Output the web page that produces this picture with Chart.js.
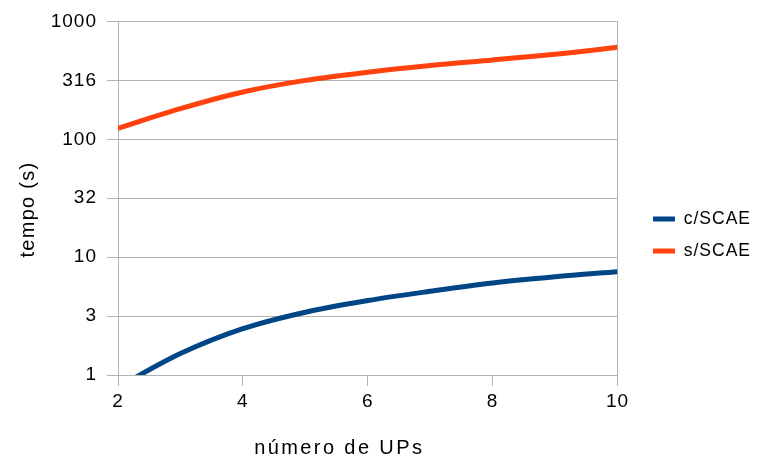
<!DOCTYPE html>
<html>
<head>
<meta charset="utf-8">
<script src="https://cdn.jsdelivr.net/npm/chart.js@4/dist/chart.umd.min.js"></script>
<style>
  html, body { margin: 0; padding: 0; background: #ffffff; }
  canvas { display: block; }
</style>
</head>
<body>
<canvas id="chart" width="758" height="459"></canvas>
<script>
// Number of processing units (x) and elapsed times in seconds (y, log scale)
const UPS = [2, 3, 4, 5, 6, 7, 8, 9, 10];
const COM_SCAE = [0.79, 1.52, 2.47, 3.41, 4.28, 5.13, 6.04, 6.82, 7.52];
const SEM_SCAE = [124, 182, 252, 316, 371, 423, 471, 526, 603];
const SERIES_NAMES = ['c/SCAE', 's/SCAE'];

// Half-decade ticks on the time axis and the labels shown for them
const Y_TICK_VALUES = [1, 3.1623, 10, 31.623, 100, 316.23, 1000];
const Y_TICK_LABELS = ['1', '3', '10', '32', '100', '316', '1000'];
const X_TICK_VALUES = [2, 4, 6, 8, 10];

const X_TITLE = 'número de UPs';
const Y_TITLE = 'tempo (s)';

const FONT = '"Liberation Sans", Arial, Helvetica, sans-serif';
const GRID = '#b3b3b3';
const BLUE = '#004586';
const ORANGE = '#ff420e';

Chart.defaults.font.family = FONT;
Chart.defaults.color = '#000000';

// Slightly open letter spacing for all chart text
const textSpacing = {
  id: 'textSpacing',
  beforeUpdate(chart) { chart.ctx.letterSpacing = '1px'; },
  beforeDraw(chart) { chart.ctx.letterSpacing = '1px'; }
};

// Axis titles, placed relative to the plot area
const axisTitles = {
  id: 'axisTitles',
  afterDraw(chart) {
    const { ctx, chartArea: a } = chart;
    ctx.save();
    ctx.fillStyle = '#000000';
    ctx.font = '20px ' + FONT;
    ctx.textAlign = 'center';
    ctx.textBaseline = 'alphabetic';
    ctx.letterSpacing = '2.4px';
    ctx.fillText(X_TITLE, a.left + 0.443 * (a.right - a.left), 454);
    ctx.letterSpacing = '1.3px';
    ctx.translate(34, a.top + 0.532 * (a.bottom - a.top));
    ctx.rotate(-Math.PI / 2);
    ctx.fillText(Y_TITLE, 0, 0);
    ctx.restore();
  }
};

const toPoints = (ys) => UPS.map((x, i) => ({ x, y: ys[i] }));

const lineStyle = {
  borderWidth: 5,
  pointRadius: 0,
  cubicInterpolationMode: 'monotone',
  fill: false,
  clip: 0
};

new Chart(document.getElementById('chart'), {
  type: 'line',
  data: {
    datasets: [
      Object.assign({
        label: SERIES_NAMES[0],
        data: toPoints(COM_SCAE),
        borderColor: BLUE,
        backgroundColor: BLUE
      }, lineStyle),
      Object.assign({
        label: SERIES_NAMES[1],
        data: toPoints(SEM_SCAE),
        borderColor: ORANGE,
        backgroundColor: ORANGE
      }, lineStyle)
    ]
  },
  options: {
    responsive: false,
    animation: false,
    layout: { padding: { top: 18, right: -3, bottom: 7, left: 0 } },
    plugins: {
      tooltip: { enabled: false },
      legend: {
        position: 'right',
        labels: {
          boxWidth: 22,
          boxHeight: 5,
          padding: 14.5,
          color: '#000000',
          font: { size: 17.5 },
          generateLabels(chart) {
            const items = Chart.defaults.plugins.legend.labels.generateLabels(chart);
            items.forEach(it => { it.lineWidth = 0; it.fillStyle = it.strokeStyle; });
            return items;
          }
        }
      }
    },
    scales: {
      x: {
        type: 'linear',
        min: 2,
        max: 10,
        afterBuildTicks(s) { s.ticks = X_TICK_VALUES.map(v => ({ value: v })); },
        afterFit(s) { s.height = 77; },
        ticks: { font: { size: 19 }, padding: 4, maxRotation: 0, autoSkip: false },
        grid: {
          color: (c) => (c.tick && c.tick.value === 10 ? GRID : 'rgba(0,0,0,0)'),
          tickColor: GRID,
          tickLength: 11,
          lineWidth: 1
        },
        border: { color: GRID }
      },
      y: {
        type: 'logarithmic',
        min: 1,
        max: 1000,
        afterBuildTicks(s) { s.ticks = Y_TICK_VALUES.map(v => ({ value: v })); },
        afterFit(s) { s.width = 118; },
        ticks: {
          font: { size: 19 },
          padding: 10,
          autoSkip: false,
          callback: (v, i) => Y_TICK_LABELS[i]
        },
        grid: { color: GRID, tickColor: GRID, tickLength: 11, lineWidth: 1 },
        border: { color: GRID }
      },
      gap: {
        type: 'linear',
        position: 'right',
        display: true,
        grid: { display: false },
        ticks: { display: false },
        border: { display: false },
        afterFit(s) { s.width = 21; }
      }
    }
  },
  plugins: [textSpacing, axisTitles]
});
</script>
</body>
</html>
